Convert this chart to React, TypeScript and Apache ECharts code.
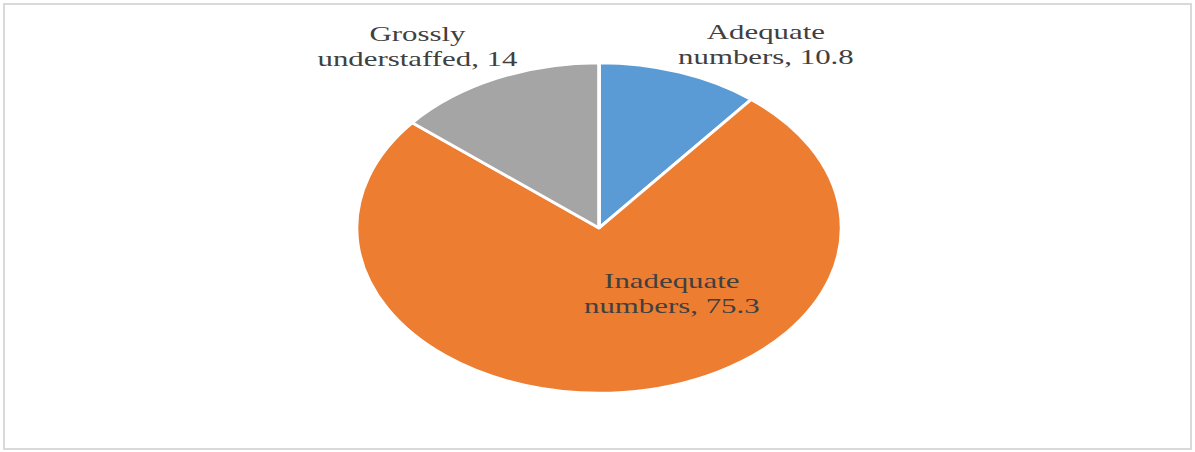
import React, { useEffect, useRef } from "react";
import * as echarts from "echarts";

const categories = ["Adequate numbers", "Inadequate numbers", "Grossly understaffed"];
const values = [10.8, 75.3, 14];
const colors = ["#5B9BD5", "#ED7D31", "#A5A5A5"];
const labelSpots = [
  [521, 44],
  [457, 293],
  [284, 46],
];

const SX = 1.47;
const W = 1195;
const H = 452;

export default function App() {
  const ref = useRef<HTMLDivElement>(null);
  useEffect(() => {
    if (!ref.current) return;
    const chart = echarts.init(ref.current, undefined, { renderer: "svg" });
    chart.setOption({
      animation: false,
      series: [
        {
          type: "pie",
          center: [407.5, 228],
          radius: 165,
          startAngle: 90,
          clockwise: true,
          data: categories.map((c, i) => ({
            name: c,
            value: values[i],
            itemStyle: { color: colors[i] },
          })),
          itemStyle: { borderColor: "#ffffff", borderWidth: 2.5 },
          label: {
            show: true,
            position: "inside",
            fontFamily: "Liberation Serif",
            fontSize: 21,
            lineHeight: 25,
            color: "#404040",
            align: "center",
            formatter: (p: any) => p.name.replace(" ", "\n") + ", " + p.value,
          },
          labelLine: { show: false },
          labelLayout: (params: any) => ({
            x: labelSpots[params.dataIndex][0],
            y: labelSpots[params.dataIndex][1],
            align: "center",
            verticalAlign: "middle",
          }),
          emphasis: { disabled: true },
        },
      ],
    });
    return () => chart.dispose();
  }, []);
  return (
    <div
      style={{
        position: "fixed",
        left: 0,
        top: 0,
        width: W,
        height: H,
        background: "#fff",
        overflow: "hidden",
      }}
    >
      <div
        style={{
          position: "absolute",
          left: 0,
          top: 0,
          width: W / SX,
          height: H,
          transform: `scaleX(${SX})`,
          transformOrigin: "0 0",
        }}
      >
        <div ref={ref} style={{ width: W / SX, height: H }} />
      </div>
      <div
        style={{
          position: "absolute",
          left: 3,
          top: 3,
          width: W - 10,
          height: H - 9,
          border: "2px solid #D9D9D9",
          pointerEvents: "none",
        }}
      />
    </div>
  );
}
